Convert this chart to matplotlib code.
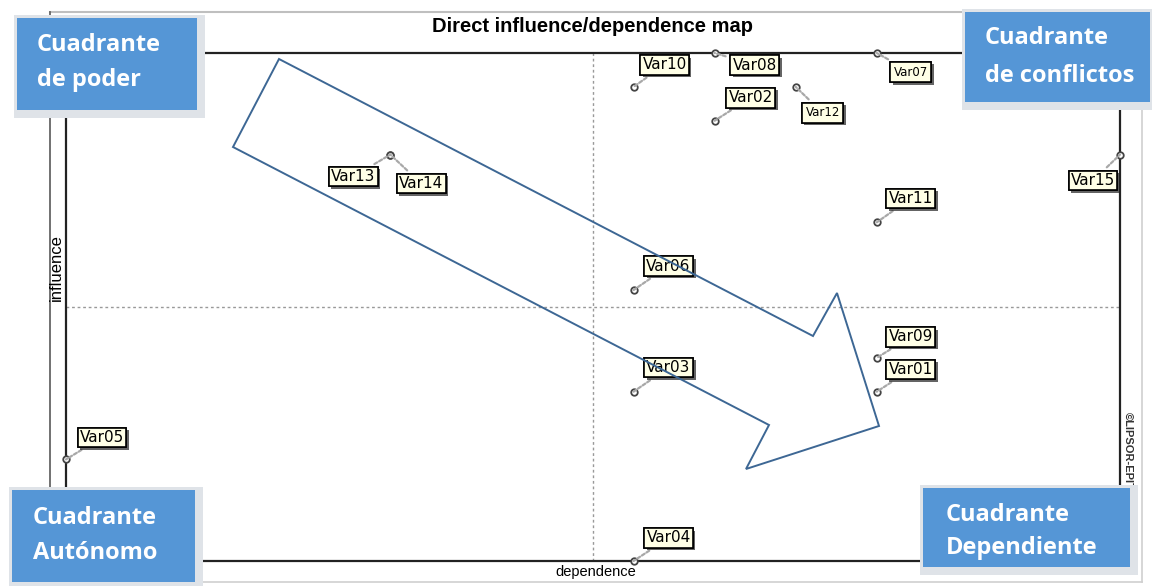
import matplotlib
matplotlib.use("Agg")
import matplotlib.pyplot as plt
from matplotlib.patches import Rectangle, Polygon
import matplotlib.patheffects as pe

# ---- data ----
variables = ["Var01", "Var02", "Var03", "Var04", "Var05", "Var06", "Var07", "Var08",
             "Var09", "Var10", "Var11", "Var12", "Var13", "Var14", "Var15"]
dependence = [10, 8, 7, 7, 0, 7, 10, 8, 10, 7, 10, 9, 4, 4, 13]
influence = [5, 13, 5, 0, 3, 8, 15, 15, 6, 14, 10, 14, 12, 12, 12]
dep_mid = 6.5
inf_mid = 7.5
dep_max = 13
inf_max = 15

title = "Direct influence/dependence map"
quadrants = ["Cuadrante\nde poder", "Cuadrante\nde conflictos",
             "Cuadrante\nAutónomo", "Cuadrante\nDependiente"]

# ---- layout helpers (pixel -> figure fraction) ----
W, H = 1152, 586
def fx(x): return x / W
def fy(y): return 1 - y / H

# label offsets in pixels (dx right, dy up)
offsets = {
    "Var10": (31, 22), "Var08": (40, -12), "Var07": (34, -19), "Var02": (36, 23),
    "Var12": (27, -26), "Var13": (-37, -22), "Var14": (31, -29), "Var15": (-27, -26),
    "Var11": (34, 24), "Var06": (35, 24), "Var09": (34, 21), "Var01": (34, 22),
    "Var03": (35, 24), "Var05": (36, 22), "Var04": (35, 23),
}
small_labels = {"Var07", "Var12"}

fig = plt.figure(figsize=(W / 100, H / 100), dpi=100)
fig.patch.set_facecolor("white")

# outer panel frame
fig.add_artist(plt.Line2D([fx(50), fx(1142)], [fy(12), fy(12)], color="#bfbfbf", lw=1.5))
fig.add_artist(plt.Line2D([fx(50), fx(50)], [fy(12), fy(582)], color="#666666", lw=1.3))
fig.add_artist(plt.Line2D([fx(1142), fx(1142)], [fy(12), fy(582)], color="#cfcfcf", lw=1.2))
fig.add_artist(plt.Line2D([fx(50), fx(1142)], [fy(582), fy(582)], color="#cfcfcf", lw=1.2))

ax = fig.add_axes([fx(66), fy(561), fx(1120) - fx(66), fy(53) - fy(561)])
ax.set_xlim(0, dep_max)
ax.set_ylim(0, inf_max)
ax.set_xticks([])
ax.set_yticks([])
for s in ax.spines.values():
    s.set_color("#222222")
    s.set_linewidth(1.6)
ax.set_facecolor("white")

ax.axvline(dep_mid, color="#999999", ls=(0, (2, 2)), lw=1.0, zorder=1)
ax.axhline(inf_mid, color="#999999", ls=(0, (2, 2)), lw=1.0, zorder=1)

ax.scatter(dependence, influence, s=22, facecolor="white", edgecolor="#444444",
           linewidth=1.3, zorder=5, clip_on=False)

for name, x, y in zip(variables, dependence, influence):
    dx, dy = offsets[name]
    small = name in small_labels
    fs = 8.5 if small else 11
    pad = 0.3 if small else 0.15
    ann = ax.annotate(name, (x, y), xytext=(dx, dy), textcoords="offset pixels",
                      ha="center", va="center", fontsize=fs, family="DejaVu Sans",
                      color="black", zorder=6, annotation_clip=False,
                      bbox=dict(boxstyle=f"square,pad={pad}", fc="#ffffe6", ec="black", lw=1.2),
                      arrowprops=dict(arrowstyle="-", color="#a8a8a8", ls=(0, (1.5, 1)),
                                      lw=1.6, shrinkA=3, shrinkB=0))
    ann.get_bbox_patch().set_path_effects(
        [pe.withSimplePatchShadow(offset=(1.8, -1.8), shadow_rgbFace="#222222", alpha=0.7),
         pe.Normal()])

# axis titles
fig.text(fx(593), fy(26), title, ha="center", va="center", fontsize=14.5,
         fontweight="bold", family="Liberation Sans")
fig.text(fx(56), fy(268), "influence", ha="center", va="center", rotation=90,
         fontsize=12, family="Liberation Sans")
fig.text(fx(596), fy(572), "dependence", ha="center", va="center",
         fontsize=10.5, family="Liberation Sans")
fig.text(fx(1128), fy(412), "©LIPSOR-EPITA-MICMAC", ha="left", va="center", rotation=-90,
         rotation_mode="anchor", fontsize=8, fontweight="bold", family="Liberation Sans",
         color="#333333")

# big hollow arrow (annotation)
arrow_px = [(279, 59), (813, 336), (837, 293), (879, 426), (746, 469), (769, 425), (233, 147)]
fig.add_artist(Polygon([(fx(x), fy(y)) for x, y in arrow_px], closed=True,
                       transform=fig.transFigure, facecolor="none",
                       edgecolor="#3d6794", lw=1.4, zorder=4))

# quadrant boxes
boxes = [
    (17, 18, 197, 110, 37, 45, 80),
    (965, 12, 1150, 102, 985, 38, 76),
    (12, 490, 195, 582, 33, 518, 553),
    (923, 488, 1130, 567, 946, 515, 548),
]
for (x0, y0, x1, y1, tx, t1, t2), label in zip(boxes, quadrants):
    sh = Rectangle((fx(x0 - 3), fy(y1 + 8)), fx(x1 + 8) - fx(x0 - 3), fy(y0 - 3) - fy(y1 + 8),
                   transform=fig.transFigure, facecolor="#dfe3e8", edgecolor="none", zorder=9)
    fig.add_artist(sh)
    r = Rectangle((fx(x0), fy(y1)), fx(x1) - fx(x0), fy(y0) - fy(y1),
                  transform=fig.transFigure, facecolor="#5596d6", edgecolor="none", zorder=10)
    fig.add_artist(r)
    l1, l2 = label.split("\n")
    for txt, ty in ((l1, t1), (l2, t2)):
        fig.text(fx(tx), fy(ty), txt, ha="left", va="center", fontsize=17,
                 fontweight="bold", family="Open Sans", color="white", zorder=11)

fig.savefig("out.png", dpi=100)
